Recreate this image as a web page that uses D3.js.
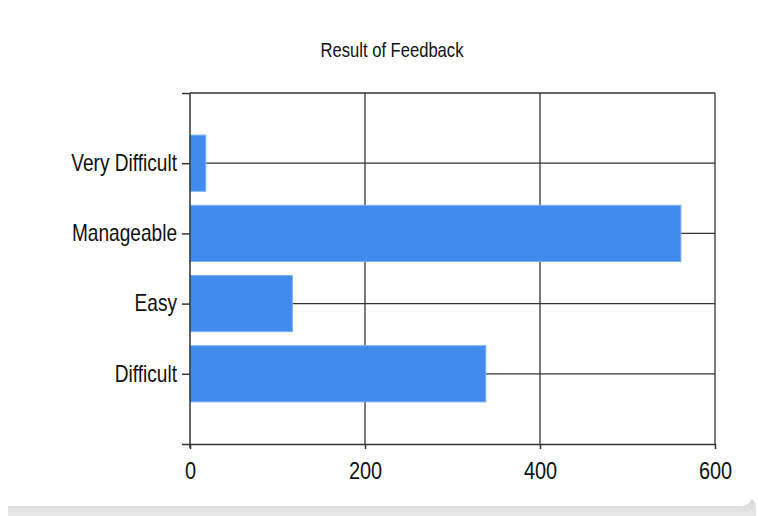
<!DOCTYPE html>
<html>
<head>
<meta charset="utf-8">
<script src="https://cdn.jsdelivr.net/npm/d3@7"></script>
<style>
  body { margin: 0; background: #fff; }
  svg text { font-family: "Liberation Sans", Arial, sans-serif; fill: #111; }
</style>
</head>
<body>
<svg width="758" height="516"></svg>
<script>
// data, bottom to top
const categories = ["Difficult", "Easy", "Manageable", "Very Difficult"]
const counts = [338, 117, 561, 18]
const xTicks = [0, 200, 400, 600]
const chartTitle = "Result of Feedback"

const svg = d3.select("svg")
const plotLeft = 190, plotRight = 715, plotTop = 93, plotBottom = 444
const squeeze = 0.83 // the original font is condensed

// card background with shadow at the bottom
const defs = svg.append("defs")
const grad = defs.append("linearGradient").attr("id", "shadow")
  .attr("x1", 0).attr("y1", 0).attr("x2", 0).attr("y2", 1)
grad.append("stop").attr("offset", "0%").attr("stop-color", "#d4d4d4")
grad.append("stop").attr("offset", "100%").attr("stop-color", "#f4f4f4")
svg.append("rect").attr("x", 8).attr("y", 497).attr("width", 748).attr("height", 30)
  .attr("rx", 10).attr("fill", "url(#shadow)")
svg.append("rect").attr("x", -20).attr("y", -20).attr("width", 772).attr("height", 526)
  .attr("rx", 10).attr("fill", "#fff")

const x = d3.scaleLinear().domain([0, 600]).range([plotLeft, plotRight])
const y = d3.scaleLinear().domain([0, categories.length + 1]).range([plotBottom, plotTop])

// grid
const g = svg.append("g")
g.selectAll(".hgrid").data(categories).enter().append("line")
  .attr("x1", plotLeft).attr("x2", plotRight)
  .attr("y1", (d, i) => y(i + 1)).attr("y2", (d, i) => y(i + 1))
  .attr("stroke", "#333").attr("stroke-width", 1.3)
g.selectAll(".vgrid").data(xTicks.slice(1)).enter().append("line")
  .attr("x1", d => x(d)).attr("x2", d => x(d))
  .attr("y1", plotTop).attr("y2", plotBottom)
  .attr("stroke", "#333").attr("stroke-width", 1.3)
g.append("line").attr("x1", plotLeft).attr("x2", plotRight).attr("y1", plotTop).attr("y2", plotTop)
  .attr("stroke", "#333").attr("stroke-width", 1.5)

// bars
const barH = y(0) - y(0.8)
svg.selectAll(".bar").data(counts).enter().append("rect")
  .attr("x", x(0))
  .attr("y", (d, i) => y(i + 1) - barH / 2)
  .attr("width", d => x(d) - x(0))
  .attr("height", barH)
  .attr("fill", "#418bef")
  .attr("stroke", "#78aef5").attr("stroke-width", 1)

// y axis
const yAxis = d3.axisLeft(y)
  .tickValues(d3.range(0, categories.length + 2))
  .tickSize(8).tickPadding(5)
  .tickFormat(d => categories[d - 1] || "")
svg.append("g").attr("transform", `translate(${plotLeft},0)`).call(yAxis)
  .call(a => a.select(".domain").remove())
  .call(a => a.selectAll("line").attr("stroke", "#333").attr("stroke-width", 1.5))
  .call(a => a.selectAll("text").attr("font-size", "23px").attr("fill", "#111")
    .attr("x", -13 / squeeze).attr("transform", `scale(${squeeze},1)`))
svg.append("line").attr("x1", plotLeft).attr("x2", plotLeft).attr("y1", plotTop).attr("y2", plotBottom + 4)
  .attr("stroke", "#333").attr("stroke-width", 1.5)

// x axis
const xAxis = d3.axisBottom(x).tickValues(xTicks).tickSize(5).tickPadding(13).tickSizeOuter(0)
svg.append("g").attr("transform", `translate(0,${plotBottom})`).call(xAxis)
  .call(a => a.select(".domain").attr("stroke", "#333").attr("stroke-width", 1.5))
  .call(a => a.selectAll("line").attr("stroke", "#333").attr("stroke-width", 1.5))
  .call(a => a.selectAll("text").attr("font-size", "24px").attr("fill", "#111")
    .attr("transform", `scale(${squeeze},1)`))

// title
svg.append("text").attr("x", 392 / squeeze).attr("y", 57).attr("text-anchor", "middle")
  .attr("transform", `scale(${squeeze},1)`)
  .attr("font-size", "20px").text(chartTitle)
</script>
</body>
</html>
